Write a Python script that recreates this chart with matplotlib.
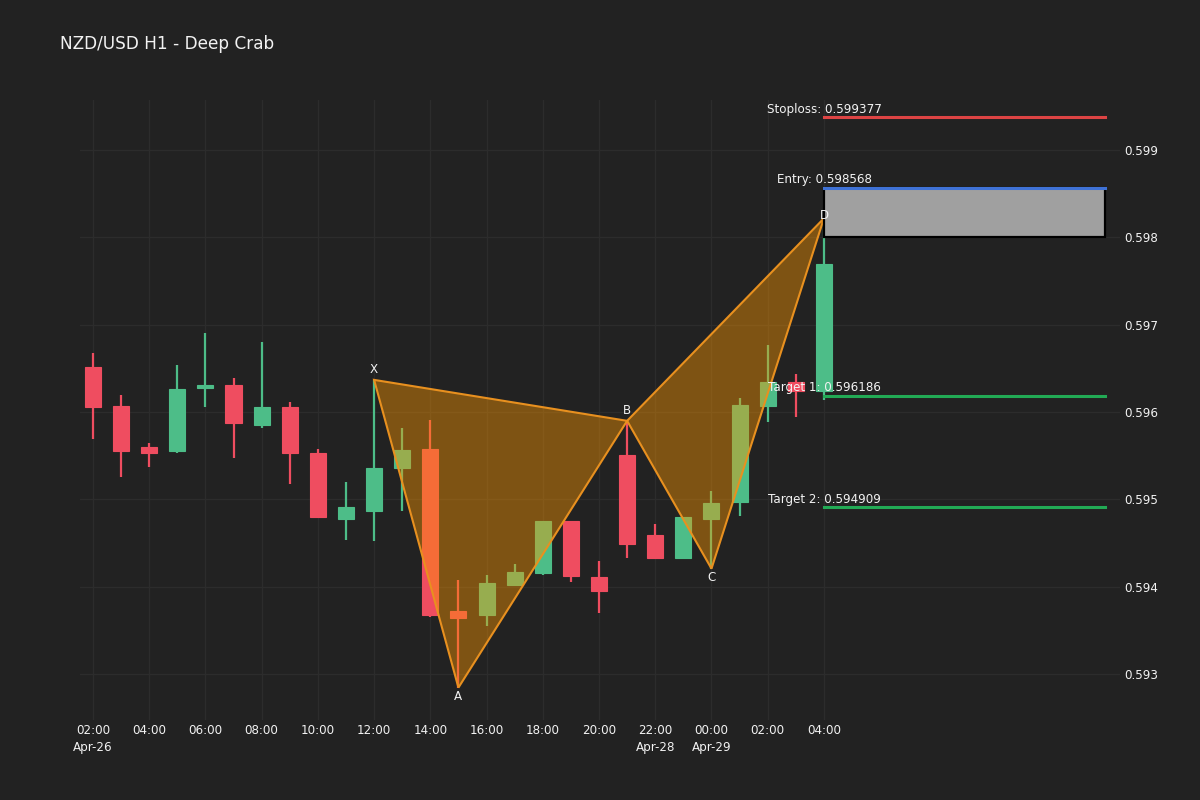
import numpy as np
import matplotlib
matplotlib.use("Agg")
import matplotlib.pyplot as plt
from matplotlib.patches import Polygon, Rectangle

plt.rcParams['font.family'] = ['DejaVu Sans']

# hourly candles, NZD/USD H1 (index 0 = Apr-26 02:00)
opens = [0.596514, 0.596074, 0.595602, 0.595553, 0.596280, 0.596311, 0.595854,
         0.596063, 0.595533, 0.594770, 0.594862, 0.595362, 0.595575, 0.593725,
         0.593672, 0.594023, 0.594157, 0.594755, 0.594114, 0.595510, 0.594592,
         0.594328, 0.594775, 0.594965, 0.596074, 0.596342, 0.596235]
highs = [0.596674, 0.596200, 0.595644, 0.596540, 0.596903, 0.596388, 0.596803,
         0.596109, 0.595579, 0.595198, 0.596368, 0.595816, 0.595903, 0.594080,
         0.594129, 0.594263, 0.594755, 0.594755, 0.594290, 0.595899, 0.594713,
         0.594793, 0.595090, 0.596162, 0.596765, 0.596437, 0.598218]
lows = [0.595690, 0.595255, 0.595373, 0.595530, 0.596063, 0.595473, 0.595816,
        0.595175, 0.594793, 0.594530, 0.594518, 0.594862, 0.593653, 0.592844,
        0.593546, 0.594023, 0.594129, 0.594054, 0.593699, 0.594328, 0.594324,
        0.594328, 0.594206, 0.594804, 0.595884, 0.595948, 0.596140]
closes = [0.596063, 0.595559, 0.595533, 0.596262, 0.596300, 0.595873, 0.596063,
          0.595533, 0.594793, 0.594912, 0.595362, 0.595564, 0.593680, 0.593642,
          0.594046, 0.594164, 0.594755, 0.594126, 0.593954, 0.594492, 0.594324,
          0.594793, 0.594958, 0.596079, 0.596349, 0.596235, 0.597696]

tick_idx = [0, 2, 4, 6, 8, 10, 12, 14, 16, 18, 20, 22, 24, 26]
tick_labels = ["02:00\nApr-26", "04:00", "06:00", "08:00", "10:00", "12:00",
               "14:00", "16:00", "18:00", "20:00", "22:00\nApr-28",
               "00:00\nApr-29", "02:00", "04:00"]

# harmonic pattern points
pt_names = ["X", "A", "B", "C", "D"]
pt_idx = [10, 13, 19, 22, 26]
pt_price = [0.596368, 0.592844, 0.595899, 0.594206, 0.598218]

# trade levels
entry = 0.598568
stoploss = 0.599377
target1 = 0.596186
target2 = 0.594909
prz_low = 0.598008
level_end = 36

bg = '#222222'
up_col = '#4dbd88'
dn_col = '#ef4d60'
txt = '#f2f2f2'

fig = plt.figure(figsize=(12, 8), dpi=100, facecolor=bg)
ax = fig.add_axes([80/1200, 80/800, 1040/1200, 620/800], facecolor=bg)

x = np.arange(len(opens))
o = np.array(opens); c = np.array(closes)
cols = [up_col if cc >= oo else dn_col for oo, cc in zip(opens, closes)]

ax.vlines(x, lows, highs, colors=cols, linewidth=1.6, zorder=2)
body_lo = np.minimum(o, c)
body_h = np.maximum(np.abs(c - o), 0.00003)
ax.bar(x, body_h, bottom=body_lo, width=0.57, color=cols, edgecolor=cols,
       linewidth=0.8, zorder=3)

# XAB and BCD triangles
orange = '#e8901f'
for tri in ([0, 1, 2], [2, 3, 4]):
    verts = [(pt_idx[i], pt_price[i]) for i in tri]
    ax.add_patch(Polygon(verts, closed=True, facecolor='#ff9900', alpha=0.42,
                         edgecolor='none', zorder=4))
    ax.add_patch(Polygon(verts, closed=True, facecolor='none',
                         edgecolor=orange, linewidth=1.5, zorder=5))

for name, xi, pr in zip(pt_names, pt_idx, pt_price):
    if name in ("A", "C"):
        dy = -9 * 0.72
    elif name == "D":
        dy = 3 * 0.72
    else:
        dy = 10 * 0.72
    ax.annotate(name, (xi, pr), xytext=(0, dy), textcoords='offset points',
                ha='center', va='center', color=txt, fontsize=8.6, zorder=8)

# PRZ box
d_idx = pt_idx[-1]
ax.add_patch(Rectangle((d_idx, prz_low), level_end - d_idx, entry - prz_low,
                       facecolor='#a0a0a0', edgecolor='black', linewidth=1.6,
                       zorder=6))

levels = [("Stoploss", stoploss, '#dd4444'), ("Entry", entry, '#3f72d6'),
          ("Target 1", target1, '#22aa55'), ("Target 2", target2, '#22aa55')]
for name, val, col in levels:
    ax.plot([d_idx, level_end], [val, val], color=col, linewidth=2.2, zorder=7)
    ax.annotate(f"{name}: {val:.6f}", (d_idx, val), xytext=(0, 8 * 0.72),
                textcoords='offset points', ha='center', va='center',
                color=txt, fontsize=8.6, zorder=8)

ax.set_xlim(-0.46, 36.53)
ax.set_ylim(0.592473, 0.599573)
ax.set_xticks(tick_idx)
ax.set_xticklabels(tick_labels, linespacing=1.35)
ax.set_yticks([0.593, 0.594, 0.595, 0.596, 0.597, 0.598, 0.599])
ax.set_yticklabels(["0.593", "0.594", "0.595", "0.596", "0.597", "0.598", "0.599"])
ax.yaxis.tick_right()
ax.tick_params(axis='both', length=0, colors=txt, labelsize=8.6)
ax.tick_params(axis='x', pad=3)
ax.tick_params(axis='y', pad=3)
ax.grid(True, color='#2c2c2c', linewidth=1.0, zorder=0)
ax.set_axisbelow(True)
for s in ax.spines.values():
    s.set_visible(False)

fig.text(60/1200, 1 - 44/800, "NZD/USD H1 - Deep Crab", color=txt,
         fontsize=12.2, ha='left', va='center')

fig.savefig("out.png", dpi=100, facecolor=bg)
